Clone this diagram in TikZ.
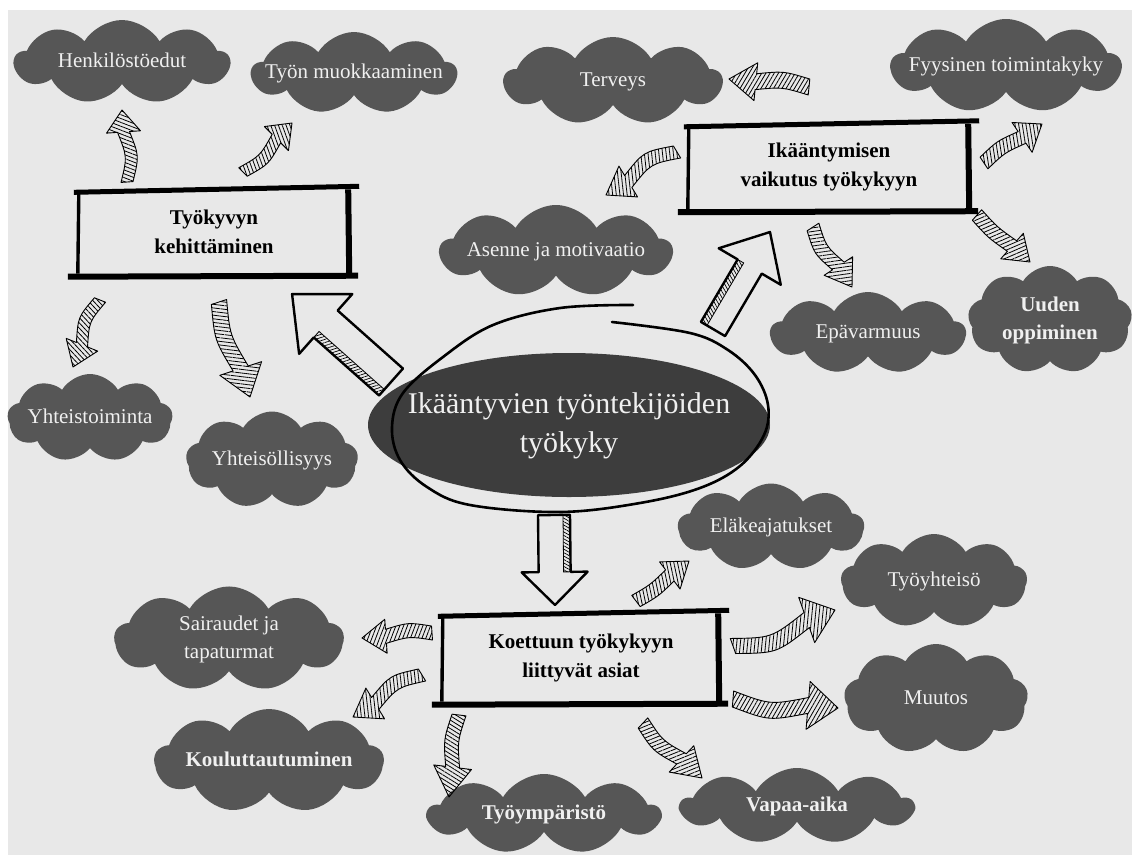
\documentclass[tikz,border=0pt]{standalone}
\usepackage{fontspec}
\setmainfont{Liberation Serif}
\usetikzlibrary{shapes.symbols,shapes.geometric,calc,patterns.meta}
\definecolor{bgc}{HTML}{E8E8E8}
\definecolor{cloudc}{HTML}{565656}
\definecolor{ellc}{HTML}{3D3D3D}
\definecolor{txtc}{HTML}{F0F0F0}

% text of zero width, so that the shape takes its size from the minimum sizes only
\newcommand\myZ[1]{\makebox[0pt][c]{\begin{tabular}{@{}c@{}}#1\end{tabular}}}

% hatched curved arrow: tail, tip, bend, shaft half width, head half width, head length
\newcommand\myHatchArrow[6]{%
  \path let \p1=(#1), \p2=(#2) in \pgfextra{%
    \pgfmathsetmacro\mytmpa{atan2(\y2-\y1,\x2-\x1)}%
    \pgfmathsetmacro\mytmpb{veclen(\x2-\x1,\y2-\y1)}%
    \pgfmathsetmacro\mytmpc{atan2(\y2-\y1,\x2-\x1)+65}%
    \xdef\myang{\mytmpa}\xdef\mylen{\mytmpb}\xdef\mypat{\mytmpc}};
  \begin{scope}[shift={(#1)}, rotate=\myang]
    \pgfmathsetmacro\myub{\mylen-#6}
    \draw[line width=0.9pt, line join=round, pattern={Lines[angle=\mypat,distance=3.6pt,line width=0.8pt]}]
      (0,{-#4}) .. controls ({\myub/2},{#3*1.33-#4}) .. (\myub,{-#4})
      -- (\myub,{-#5}) -- (\mylen,0) -- (\myub,{#5}) -- (\myub,{#4})
      .. controls ({\myub/2},{#3*1.33+#4}) .. (0,{#4}) -- cycle;
  \end{scope}}

% big outlined arrow: tail, tip, shaft half width, head half width, head length, strip width
\newcommand\myBigArrow[6]{%
  \path let \p1=(#1), \p2=(#2) in \pgfextra{%
    \pgfmathsetmacro\mytmpa{atan2(\y2-\y1,\x2-\x1)}%
    \pgfmathsetmacro\mytmpb{veclen(\x2-\x1,\y2-\y1)}%
    \pgfmathsetmacro\mytmpc{atan2(\y2-\y1,\x2-\x1)+60}%
    \xdef\myang{\mytmpa}\xdef\mylen{\mytmpb}\xdef\mypat{\mytmpc}};
  \begin{scope}[shift={(#1)}, rotate=\myang]
    \pgfmathsetmacro\myub{\mylen-#5}
    \draw[line width=2.4pt, line join=round, fill=bgc]
      (0,{-#3}) -- (\myub,{-#3}) -- (\myub,{-#4}) -- (\mylen,0) -- (\myub,{#4}) -- (\myub,{#3}) -- (0,{#3}) -- cycle;
    \draw[line width=0.8pt, pattern={Lines[angle=\mypat,distance=3pt,line width=0.7pt]}]
      (0,{-#3}) -- (\myub,{-#3}) -- (\myub,{-#3+#6}) -- (0,{-#3+#6}) -- cycle;
  \end{scope}}

% hand drawn frame around a box node
\newcommand\myFrame[1]{%
  \draw[line width=5pt] ($(#1.north west)+(-4,5)$) -- ($(#1.north east)+(9,-1)$);
  \draw[line width=6pt] ($(#1.south west)+(-10,0)$) -- ($(#1.south east)+(8,-1)$);
  \draw[line width=3.4pt] ($(#1.north west)+(1,6)$) -- ($(#1.south west)+(0,-3)$);
  \draw[line width=6pt] ($(#1.north east)+(-2,2)$) -- ($(#1.south east)+(-1,-3)$);}

\begin{document}
\begin{tikzpicture}[x=1pt,y=-1pt,
  cloudn/.style={cloud, cloud puffs=9, cloud puff arc=118, aspect=2, fill=cloudc, draw=none,
    text=txtc, inner sep=0pt, font=\fontsize{21}{28}\selectfont},
  cloudb/.style={cloudn, font=\fontsize{21}{28}\bfseries},
  boxn/.style={rectangle, inner sep=0pt, align=center, font=\fontsize{21}{29}\bfseries}]
\useasboundingbox (0,0) rectangle (1132,855);
\fill[white] (0,0) rectangle (1132,855);
\fill[bgc] (8,10) rectangle (1132,855);

% clouds
\node[cloudn, minimum width=215pt, minimum height=84pt] (hen) at (122,62) {\myZ{Henkilöstöedut}};
\node[cloudn, minimum width=205pt, minimum height=82pt] (tyon) at (354,73) {\myZ{Työn muokkaaminen}};
\node[cloudn, minimum width=218pt, minimum height=88pt] (terv) at (613,81) {\myZ{Terveys}};
\node[cloudn, minimum width=230pt, minimum height=94pt] (fyys) at (1006,66) {\myZ{Fyysinen toimintakyky}};
\node[cloudn, minimum width=232pt, minimum height=92pt] (asen) at (556,251) {\myZ{Asenne ja motivaatio}};
\node[cloudn, minimum width=195pt, minimum height=82pt] (epav) at (868,333) {\myZ{Epävarmuus}};
\node[cloudb, minimum width=163pt, minimum height=108pt] (uuden) at (1050,320) {\myZ{Uuden\\oppiminen}};
\node[cloudn, minimum width=165pt, minimum height=88pt] (yhtt) at (90,418) {\myZ{Yhteistoiminta}};
\node[cloudn, minimum width=172pt, minimum height=97pt] (yhts) at (272,460) {\myZ{Yhteisöllisyys}};
\node[cloudn, minimum width=186pt, minimum height=87pt] (elak) at (771,527) {\myZ{Eläkeajatukset}};
\node[cloudn, minimum width=186pt, minimum height=94pt] (tyoy) at (934,581) {\myZ{Työyhteisö}};
\node[cloudn, minimum width=184pt, minimum height=110pt] (muut) at (936,699) {\myZ{Muutos}};
\node[cloudn, minimum width=229pt, minimum height=100pt] (sair) at (229,639) {\myZ{Sairaudet ja\\tapaturmat}};
\node[cloudb, minimum width=229pt, minimum height=104pt] (koul) at (269,761) {\myZ{Kouluttautuminen}};
\node[cloudb, minimum width=232pt, minimum height=80pt] (tyoym) at (544,814) {\myZ{Työympäristö}};
\node[cloudb, minimum width=232pt, minimum height=76pt] (vapaa) at (797,806) {\myZ{Vapaa-aika}};

% central ellipse
\node[ellipse, fill=ellc, minimum width=402pt, minimum height=144pt, inner sep=0pt, text=txtc,
  font=\fontsize{30}{39}\selectfont] (ell) at (569,425) {\myZ{Ikääntyvien työntekijöiden\\työkyky}};
\draw[line width=2.6pt, line cap=round, line join=round] plot[smooth, tension=0.6] coordinates {
  (633,305) (560,308) (493,325) (443,357) (403,393) (392,427) (400,460) (427,487) (470,505)
  (560,512) (640,503) (700,488) (740,466) (764,435) (768,405) (755,375) (728,350) (690,333) (612,322)};

% boxes
\node[boxn, minimum width=272pt, minimum height=89pt] (kehit) at (214,232) {Työkyvyn\\kehittäminen};
\node[boxn, minimum width=282pt, minimum height=90pt] (ikaa) at (829,167) {Ikääntymisen\\vaikutus työkykyyn};
\node[boxn, minimum width=278pt, minimum height=93pt] (koet) at (581,658) {Koettuun työkykyyn\\liittyvät asiat};
\myFrame{kehit}
\myFrame{ikaa}
\myFrame{koet}

% big arrows from the centre
\myBigArrow{$(ell)+(-178,-43)$}{$(kehit)+(78,62)$}{18}{40}{45}{8}
\myBigArrow{$(ell)+(144,-96)$}{$(ikaa)+(-59,65)$}{14}{36}{40}{7}
\myBigArrow{$(ell)+(-15,90)$}{$(koet)+(-26,-53)$}{16}{33}{33}{7}

% hatched arrows
\myHatchArrow{$(kehit)+(-87,-50)$}{$(hen)+(0,48)$}{6}{6}{17}{22}
\myHatchArrow{$(kehit)+(29,-60)$}{$(tyon)+(-62,50)$}{5}{6}{17}{22}
\myHatchArrow{$(kehit)+(-114,68)$}{$(yhtt)+(-17,-51)$}{6}{6}{17}{24}
\myHatchArrow{$(kehit)+(5,70)$}{$(yhts)+(-22,-63)$}{6}{8}{22}{30}
\myHatchArrow{$(ikaa)+(-20,-80)$}{$(terv)+(116,-2)$}{4}{8}{19}{27}
\myHatchArrow{$(ikaa)+(155,-4)$}{$(fyys)+(36,58)$}{-3}{7}{18}{24}
\myHatchArrow{$(ikaa)+(-152,-15)$}{$(asen)+(50,-56)$}{8}{7}{18}{26}
\myHatchArrow{$(ikaa)+(-16,60)$}{$(epav)+(-16,-46)$}{5}{7}{17}{25}
\myHatchArrow{$(ikaa)+(148,48)$}{$(uuden)+(-20,-58)$}{2}{7}{17}{24}
\myHatchArrow{$(koet)+(55,-57)$}{$(elak)+(-82,34)$}{2}{7}{17}{24}
\myHatchArrow{$(koet)+(152,-12)$}{$(tyoy)+(-99,29)$}{10}{8}{24}{30}
\myHatchArrow{$(koet)+(152,41)$}{$(muut)+(-98,9)$}{8}{8}{24}{30}
\myHatchArrow{$(koet)+(-149,-25)$}{$(sair)+(133,-1)$}{4}{7}{17}{24}
\myHatchArrow{$(koet)+(-159,17)$}{$(koul)+(84,-44)$}{7}{7}{18}{26}
\myHatchArrow{$(koet)+(-122,57)$}{$(tyoym)+(-95,-17)$}{4}{7}{19}{30}
\myHatchArrow{$(koet)+(62,65)$}{$(vapaa)+(-95,-28)$}{5}{7}{18}{28}
\end{tikzpicture}
\end{document}
